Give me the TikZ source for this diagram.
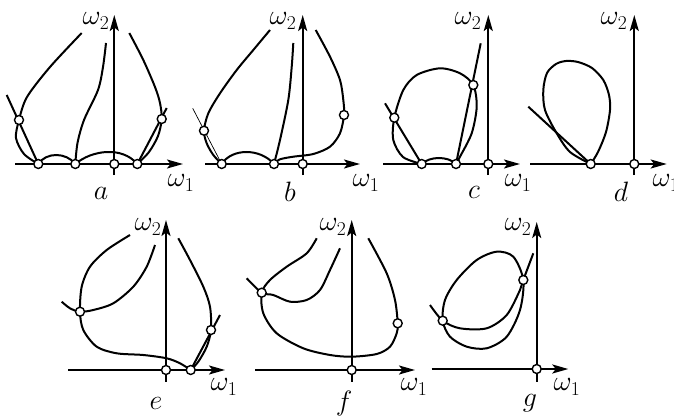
\RequirePackage{fix-cm}
\documentclass[tikz,border=0pt]{standalone}
\usetikzlibrary{arrows.meta}

\tikzset{
  ln/.style={line width=2pt},
  thinln/.style={line width=0.7pt},
  ax/.style={line width=2pt,-{Stealth[length=16pt,width=9pt,inset=3.5pt]}},
  dot/.style={circle,draw,fill=white,line width=1.4pt,inner sep=0pt,minimum size=9pt},
  lbl/.style={font=\fontsize{28}{32}\selectfont,inner sep=0pt}
}

\begin{document}
\begin{tikzpicture}[x=1pt,y=-1pt]
\useasboundingbox (0,0) rectangle (674,417);
% a
\draw[ln] plot[smooth] coordinates {(81.7,33) (50,67) (27,97) (19,120) (16,138) (24,154) (38.3,164)};
\draw[ln] (6.7,95) -- (38.3,164);
\draw[ln] (38.3,164) .. controls (46,152) and (66,152) .. (75.3,164);
\draw[ln] (75.3,164) .. controls (92,150) and (122,146) .. (137.3,164);
\draw[ln] plot[smooth] coordinates {(106,43) (103,67) (98,90) (84,120) (77.5,143) (75.3,164)};
\draw[ln] plot[smooth] coordinates {(129.3,33) (143.3,60) (155,87) (160,103) (161.7,119) (158,136) (149,152) (137.3,164)};
\draw[ln] (166.7,108) -- (137.3,164);
\draw[ax] (15,164) -- (183,164);
\draw[ax] (114.3,175) -- (114.3,15);
\foreach \p [count=\i] in {(38.3,164),(75.3,164),(114.3,164),(137.3,164),(19,120),(161.7,119)}
  \node[dot] (a\i) at \p {};
\node[lbl] (wa2) at (96,21) {$\omega_2$};
\node[lbl] (wa1) at (181,183) {$\omega_1$};
\node[lbl] (la) at (101,193) {$a$};
% b
\draw[ln] plot[smooth] coordinates {(270,30) (253.3,50) (236.7,70) (220,93.3) (208.3,113.3) (204,130.7) (206.7,143.3) (213.3,155) (221.7,164)};
\draw[thinln] (192.7,108.3) -- (221.7,164);
\draw[ln] (221.7,164) .. controls (232,148) and (260,148) .. (274,164);
\draw[ln] plot[smooth] coordinates {(293.3,43) (291.7,67) (288.3,100) (280,140) (274,164)};
\draw[ln] plot[smooth] coordinates {(315.7,30) (330,56.7) (340,80) (343.3,100) (344,115) (340,133.3) (330,146.7) (313.3,154) (293.3,156.7) (280,159.3) (274,164)};
\draw[ax] (205,164) -- (360,164);
\draw[ax] (302.7,175) -- (302.7,15);
\foreach \p [count=\i] in {(221.7,164),(274,164),(302.7,164),(204,130.7),(344,115)}
  \node[dot] (b\i) at \p {};
\node[lbl] (wb2) at (283,21) {$\omega_2$};
\node[lbl] (wb1) at (366,183) {$\omega_1$};
\node[lbl] (lb) at (290,192) {$b$};
% c
\draw[ln] plot[smooth] coordinates {(421.7,164) (403,157) (393.3,140) (394.3,117.7) (403.3,90) (416.7,75) (440,68.3) (460,73.3) (473.3,85) (476.7,106.7) (471.7,133.3) (460,156.7) (456,164)};
\draw[ln] (385,103.3) -- (421.7,164);
\draw[ln] (480.7,43.3) -- (456,164);
\draw[ln] (421.7,164) .. controls (430,156) and (448,156) .. (456,164);
\draw[ax] (383.3,164) -- (520,164);
\draw[ax] (488.3,175) -- (488.3,15);
\foreach \p [count=\i] in {(421.7,164),(456,164),(488.3,164),(394.3,117.7),(473.3,85)}
  \node[dot] (c\i) at \p {};
\node[lbl] (wc2) at (468,21) {$\omega_2$};
\node[lbl] (wc1) at (518,183) {$\omega_1$};
\node[lbl] (lc) at (474,192) {$c$};
% d
\draw[ln] plot[smooth] coordinates {(590.7,164) (570,152) (556.7,133.3) (545,110) (543.3,90) (547,73) (556,64) (566,61) (578,62) (592,68) (603.3,80) (609,95) (610,110) (606,132) (598,152) (590.7,164)};
\draw[ln] (528.3,106.7) -- (590.7,164);
\draw[ax] (530,164) -- (666.7,164);
\draw[ax] (634.3,175) -- (634.3,15);
\foreach \p [count=\i] in {(590.7,164),(634.3,164)}
  \node[dot] (d\i) at \p {};
\node[lbl] (wd2) at (614,21) {$\omega_2$};
\node[lbl] (wd1) at (666,183) {$\omega_1$};
\node[lbl] (ld) at (621,192) {$d$};
% e
\draw[ln] plot[smooth] coordinates {(130,235) (106.7,250) (90,266.7) (81.7,286.7) (80,311.7) (83.3,330) (96.7,346.7) (116.7,353.3) (143.3,355) (166.7,358.3) (180,363.3) (190.7,370)};
\draw[ln] plot[smooth] coordinates {(155,245) (146.7,266.7) (133.3,286.7) (113.3,303.3) (93.3,310) (80,311.7) (70,308.3) (61.7,301.7)};
\draw[ln] plot[smooth] coordinates {(178.3,238.3) (190,260) (203.3,286.7) (210,306.7) (211,330) (206.7,346.7) (198.3,361.7) (190.7,370)};
\draw[ln] (220,315) -- (190.7,370);
\draw[ax] (68.3,370) -- (225,370);
\draw[ax] (166,381.7) -- (166,220);
\foreach \p [count=\i] in {(166,370),(190.7,370),(80,311.7),(211,330)}
  \node[dot] (e\i) at \p {};
\node[lbl] (we2) at (148,227) {$\omega_2$};
\node[lbl] (we1) at (224,387) {$\omega_1$};
\node[lbl] (le) at (156,403) {$e$};
% f
\draw[ln] plot[smooth] coordinates {(316.7,238.3) (306.7,253.3) (286.7,266.7) (270,280) (261.7,292.7) (263.3,313.3) (276.7,333.3) (303.3,348.3) (330,355) (351.7,356.7) (376.7,354) (390,346.7) (396.7,333.3) (397.7,323.3) (395,300) (386.7,273.3) (368.3,238.3)};
\draw[ln] plot[smooth] coordinates {(340,248.3) (330,270) (320,290) (306.7,300) (290,301.7) (273.3,295) (261.7,292.7) (246.7,278.3)};
\draw[ax] (255,370) -- (415,370);
\draw[ax] (351.7,381.7) -- (351.7,220);
\foreach \p [count=\i] in {(351.7,370),(261.7,292.7),(397.7,323.3)}
  \node[dot] (f\i) at \p {};
\node[lbl] (wf2) at (333,227) {$\omega_2$};
\node[lbl] (wf1) at (414,387) {$\omega_1$};
\node[lbl] (lf) at (344,403) {$f$};
% g
\draw[ln] plot[smooth cycle] coordinates {(442.7,320.7) (445,300) (456.7,280) (476.7,260) (496.7,251.7) (513.3,256.7) (523.3,280) (520,310) (506.7,336.7) (486.7,348.3) (466.7,346.7) (450,336.7)};
\draw[ln] plot[smooth] coordinates {(430,305) (442.7,320.7) (460,328.3) (486.7,328.3) (506.7,315) (520,290) (523.3,280) (533.3,253.3)};
\draw[ax] (431.7,369) -- (568.3,369);
\draw[ax] (536.7,381.7) -- (536.7,222);
\foreach \p [count=\i] in {(536.7,369),(442.7,320.7),(523.3,280)}
  \node[dot] (g\i) at \p {};
\node[lbl] (wg2) at (518,227) {$\omega_2$};
\node[lbl] (wg1) at (567,387) {$\omega_1$};
\node[lbl] (lg) at (530,403) {$g$};
\end{tikzpicture}
\end{document}
